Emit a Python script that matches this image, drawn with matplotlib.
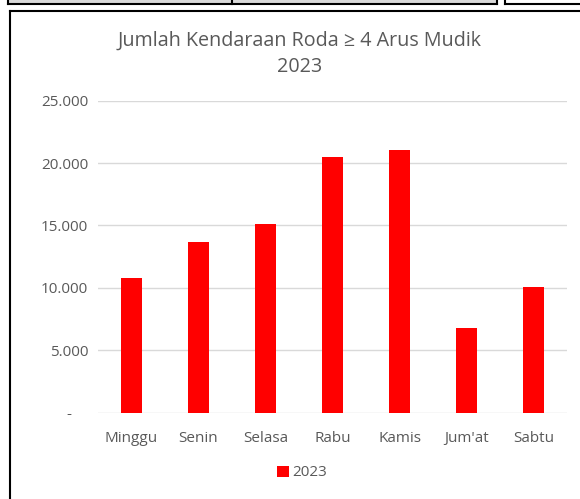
import matplotlib.pyplot as plt
from matplotlib.lines import Line2D
from matplotlib.patches import Rectangle
from matplotlib.ticker import FuncFormatter

## Data

days = ["Minggu", "Senin", "Selasa", "Rabu", "Kamis", "Jum'at", "Sabtu"]
vehicles_2023 = [10770, 13680, 15100, 20480, 21070, 6760, 10050]
y_ticks = [0, 5000, 10000, 15000, 20000, 25000]
series_name = "2023"
title = "Jumlah Kendaraan Roda \u2265 4 Arus Mudik\n2023"

W, H = 580, 499
grey_text = "#595959"
plt.rcParams["font.family"] = ["Open Sans", "DejaVu Sans"]


def px(x, y):
    # pixel coords (top-left origin) -> figure fraction
    return x / W, 1 - y / H


def fmt_thousands(v, p):
    # excel accounting style: zero shown as a dash
    if v == 0:
        return "-    "
    return "{:,.0f}".format(v).replace(",", ".")


def main():
    fig = plt.figure(figsize=(W / 100, H / 100), dpi=100)

    ## Spreadsheet bits around the chart
    fig.patches.append(Rectangle(px(8, 3), 489 / W, 3 / H, transform=fig.transFigure,
                                 facecolor="#d9d9d9", edgecolor="none"))
    for (x0, y0, x1, y1) in [(8, 3.5, 497, 3.5), (232, 0, 232, 3.5), (497, 0, 497, 3.5),
                             (8, 0, 8, 3.5), (505, 3.5, 580, 3.5), (505, 0, 505, 3.5),
                             (10, 10.5, 580, 10.5), (10, 10.5, 10, 499)]:
        a, b = px(x0, y0)
        c, d = px(x1, y1)
        fig.add_artist(Line2D([a, c], [b, d], color="black", lw=1.5,
                              transform=fig.transFigure))

    ## Plot area
    left, top = px(98, 100.7)
    right, bottom = px(567, 412.5)
    ax = fig.add_axes([left, bottom, right - left, top - bottom])

    x = range(len(days))
    ax.bar(x, vehicles_2023, width=0.31, color="#ff0000", label=series_name, zorder=3)
    ax.set_xlim(-0.5, len(days) - 0.5)
    ax.set_ylim(0, 25000)
    ax.set_yticks(y_ticks)
    ax.yaxis.set_major_formatter(FuncFormatter(fmt_thousands))
    ax.set_xticks(list(x))
    ax.set_xticklabels(days)
    ax.grid(axis="y", color="#d9d9d9", lw=1, zorder=0)
    for s in ax.spines.values():
        s.set_visible(False)
    ax.tick_params(length=0, colors=grey_text, labelsize=11)
    ax.tick_params(axis="y", pad=7)
    ax.tick_params(axis="x", pad=13)

    tx, ty = px(300, 54)
    fig.text(tx, ty, title, ha="center", va="center", fontsize=14.2,
             color=grey_text, linespacing=1.4)

    lx, ly = px(302, 473)
    fig.legend(loc="center", bbox_to_anchor=(lx, ly), frameon=False,
               handlelength=0.75, handleheight=0.75, handletextpad=0.2,
               labelcolor=grey_text, prop={"size": 11})

    fig.savefig("out.png", dpi=100)


if __name__ == "__main__":
    main()
